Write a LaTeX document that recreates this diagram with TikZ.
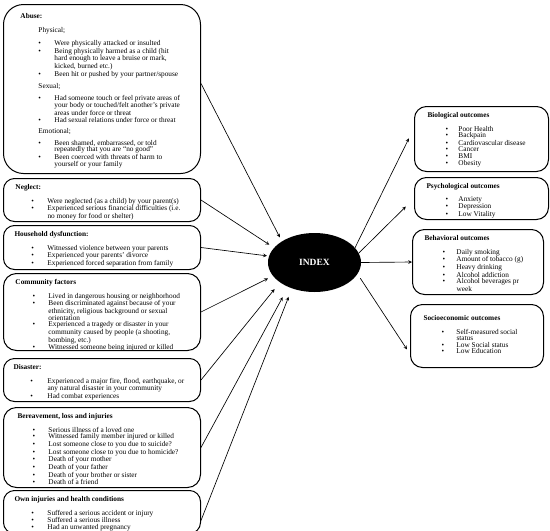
\documentclass[tikz,border=0pt]{standalone}
\usepackage{fontspec}
\setmainfont{Liberation Serif}
\usetikzlibrary{arrows,positioning,shapes.geometric}

% indents inside the boxes
\newlength{\hdx}
\newlength{\subx}
\newlength{\bulx}
\newlength{\bulw}
\newcommand{\boxtitle}[2][6pt]{\vspace*{#1}\hspace*{\hdx}\textbf{#2}\strut\par\vspace{5.5pt}}
\newcommand{\subhead}[1]{\hspace*{\subx}#1\par\vspace{5.4pt}}
\newcommand{\itm}[1]{\hspace*{\bulx}\makebox[\bulw][l]{\textbullet}#1\par}
\newcommand{\cnt}[1]{\hspace*{\bulx}\hspace*{\bulw}#1\par}
% width, height, title indent, bullet indent, bullet column, body
\newcommand{\boxtext}[6]{\parbox[t][#2][t]{#1}{\parskip=0pt
    \setlength{\hdx}{#3}\setlength{\bulx}{#4}\setlength{\bulw}{#5}#6}}

\begin{document}
\begin{tikzpicture}[
    x=1pt, y=-1pt,
    font=\fontsize{7.3}{6.6}\selectfont,
    box/.style={
        draw=black,
        line width=1pt,
        rounded corners=#1,
        inner sep=0pt,
        anchor=north west
    },
    box/.default=11pt,
    arrow/.style={->, >=stealth, line width=0.65pt}
]
\useasboundingbox (0,0) rectangle (550,531);

% Adverse experiences
\node[box=20pt] (abuse) at (3,4) {\boxtext{197pt}{169pt}{17pt}{35pt}{16pt}{%
    \setlength{\subx}{35pt}%
    \boxtitle[9.4pt]{Abuse:}
    \subhead{Physical;}
    \itm{Were physically attacked or insulted}
    \itm{Being physically harmed as a child (hit}
    \cnt{hard enough to leave a bruise or mark,}
    \cnt{kicked, burned etc.)}
    \itm{Been hit or pushed by your partner/spouse}
    \vspace{4.5pt}
    \subhead{Sexual;}
    \itm{Had someone touch or feel private areas of}
    \cnt{your body or touched/felt another's private}
    \cnt{areas under force or threat}
    \itm{Had sexual relations under force or threat}
    \vspace{4.5pt}
    \subhead{Emotional;}
    \itm{Been shamed, embarrassed, or told}
    \cnt{repeatedly that you are ``no good''}
    \itm{Been coerced with threats of harm to}
    \cnt{yourself or your family}}};

\node[box, below=4pt of abuse] (neglect) {\boxtext{197pt}{43pt}{12pt}{28pt}{16pt}{%
    \boxtitle{Neglect:}
    \itm{Were neglected (as a child) by your parent(s)}
    \itm{Experienced serious financial difficulties (i.e.}
    \cnt{no money for food or shelter)}}};

\node[box, below=3pt of neglect] (household) {\boxtext{197pt}{44pt}{11pt}{28pt}{16pt}{%
    \boxtitle{Household dysfunction:}
    \itm{Witnessed violence between your parents}
    \itm{Experienced your parents' divorce}
    \itm{Experienced forced separation from family}}};

\node[box=13pt, below=3pt of household] (community) {\boxtext{197pt}{77pt}{12pt}{29pt}{16pt}{%
    \boxtitle{Community factors}
    \itm{Lived in dangerous housing or neighborhood}
    \itm{Been discriminated against because of your}
    \cnt{ethnicity, religious background or sexual}
    \cnt{orientation}
    \itm{Experienced a tragedy or disaster in your}
    \cnt{community caused by people (a shooting,}
    \cnt{bombing, etc.)}
    \itm{Witnessed someone being injured or killed}}};

\node[box, below=7pt of community] (disaster) {\boxtext{197pt}{43pt}{10pt}{27pt}{17pt}{%
    \boxtitle{Disaster:}
    \itm{Experienced a major fire, flood, earthquake, or}
    \cnt{any natural disaster in your community}
    \itm{Had combat experiences}}};

\node[box=13pt, below=5pt of disaster] (bereavement) {\boxtext{197pt}{80pt}{14pt}{29pt}{16pt}{%
    \boxtitle{Bereavement, loss and injuries}
    \itm{Serious illness of a loved one}
    \itm{Witnessed family member injured or killed}
    \itm{Lost someone close to you due to suicide?}
    \itm{Lost someone close to you due to homicide?}
    \itm{Death of your mother}
    \itm{Death of your father}
    \itm{Death of your brother or sister}
    \itm{Death of a friend}}};

\node[box, below=2pt of bereavement] (owninjury) {\boxtext{197pt}{43pt}{11pt}{28pt}{16pt}{%
    \boxtitle{Own injuries and health conditions}
    \itm{Suffered a serious accident or injury}
    \itm{Suffered a serious illness}
    \itm{Had an unwanted pregnancy}}};

% Index
\node[ellipse, fill=black, minimum width=93pt, minimum height=59pt, inner sep=0pt,
    text=white, font=\fontsize{9.5}{10}\selectfont\bfseries] (index) at (314.5,262.5) {INDEX};

% Outcomes
\node[box=12pt] (bio) at (414,106) {\boxtext{134pt}{65pt}{13pt}{31pt}{13pt}{%
    \boxtitle{Biological outcomes}
    \itm{Poor Health}
    \itm{Backpain}
    \itm{Cardiovascular disease}
    \itm{Cancer}
    \itm{BMI}
    \itm{Obesity}}};

\node[box=12pt, below=5pt of bio] (psych) {\boxtext{134pt}{42pt}{12pt}{31pt}{13pt}{%
    \boxtitle{Psychological outcomes}
    \itm{Anxiety}
    \itm{Depression}
    \itm{Low Vitality}}};

\node[box=12pt, below=9pt of psych, xshift=-3.5pt] (behav) {\boxtext{131pt}{65pt}{12pt}{30pt}{14pt}{%
    \boxtitle{Behavioral outcomes}
    \itm{Daily smoking}
    \itm{Amount of tobacco (g)}
    \itm{Heavy drinking}
    \itm{Alcohol addiction}
    \itm{Alcohol beverages pr}
    \cnt{week}}};

\node[box=12pt, below=9pt of behav, xshift=-1pt] (socio) {\boxtext{133pt}{63pt}{13pt}{31pt}{15pt}{%
    \boxtitle[11pt]{Socioeconomic outcomes}
    \itm{Self-measured social}
    \cnt{status}
    \itm{Low Social status}
    \itm{Low Education}}};

% Arrows into the index
\draw[arrow, shorten >=4.5pt] ([yshift=5.5pt]abuse.east) -- (index.147);
\draw[arrow, shorten >=5.5pt] (neglect.east) -- (index.160);
\draw[arrow, shorten >=2pt] (household.east) -- (index.172);
\draw[arrow, shorten >=5.5pt] (community.east) -- (index.198);
\draw[arrow, shorten >=8.5pt] (disaster.east) -- (index.210);
\draw[arrow, shorten >=11.5pt] (bereavement.east) -- (index.223);
\draw[arrow, shorten >=9pt] ([yshift=-8.5pt]owninjury.east) -- (index.229);

% Arrows to the outcomes
\draw[arrow, shorten >=11.5pt] (index.20) -- ([yshift=11pt]bio.west);
\draw[arrow, shorten >=11.5pt] (index.12) -- (psych.west);
\draw[arrow] (index.east) -- (behav.west);
\draw[arrow, shorten <=5pt, shorten >=5.5pt] (index.-15) -- ([yshift=-18pt]socio.west);

\end{tikzpicture}
\end{document}
